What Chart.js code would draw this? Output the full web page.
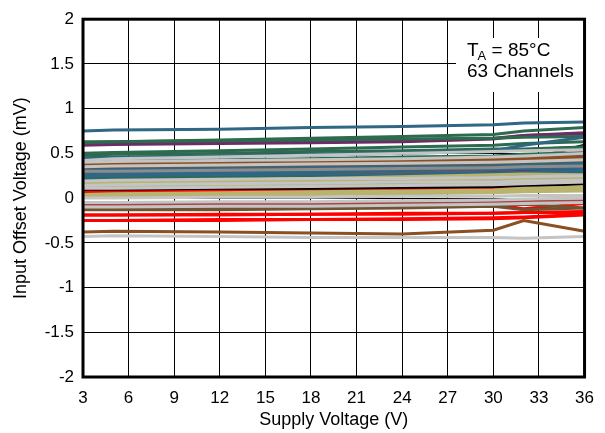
<!DOCTYPE html>
<html>
<head>
<meta charset="utf-8">
<script src="https://cdn.jsdelivr.net/npm/chart.js@4"></script>
<style>
   html, body { margin: 0; padding: 0; background: #fff; }
   #wrap { width: 605px; height: 433px; }
</style>
</head>
<body>
<div id="wrap"><canvas id="canvasVos"></canvas></div>
<script>

/* supply voltage points where each channel was measured */
const VOLTS = [3, 5, 12, 18, 24, 30, 32, 36];
const X_TICKS = [3, 6, 9, 12, 15, 18, 21, 24, 27, 30, 33, 36];
const Y_TICKS = [-2, -1.5, -1, -0.5, 0, 0.5, 1, 1.5, 2];

/* offset voltage (mV) per channel, grouped by trace colour */
const greyCh = [
   [0.42, 0.44, 0.46, 0.48, 0.50, 0.52, 0.53, 0.54],
   [0.40, 0.41, 0.42, 0.43, 0.44, 0.46, 0.47, 0.50],
   [0.35, 0.36, 0.37, 0.38, 0.39, 0.40, 0.41, 0.43],
   [0.19, 0.20, 0.21, 0.22, 0.22, 0.23, 0.24, 0.25],
   [0.14, 0.15, 0.16, 0.17, 0.18, 0.18, 0.19, 0.20],
   [0.11, 0.11, 0.12, 0.13, 0.14, 0.15, 0.16, 0.18],
   [0.00, 0.00, 0.01, 0.01, 0.02, 0.02, 0.03, 0.03],
   [-0.05, -0.05, -0.04, -0.04, -0.03, -0.02, -0.01, 0.00],
   [-0.10, -0.10, -0.09, -0.09, -0.08, -0.07, -0.06, -0.05],
   [-0.43, -0.42, -0.43, -0.44, -0.44, -0.44, -0.45, -0.43]
];
const darkGreyCh = [
   [0.30, 0.30, 0.31, 0.32, 0.33, 0.34, 0.35, 0.36]
];
const khakiCh = [
   [0.18, 0.19, 0.20, 0.22, 0.24, 0.26, 0.27, 0.26],
   [0.16, 0.17, 0.18, 0.19, 0.20, 0.21, 0.22, 0.23],
   [0.12, 0.12, 0.13, 0.14, 0.15, 0.16, 0.17, 0.19],
   [0.04, 0.05, 0.06, 0.07, 0.08, 0.09, 0.11, 0.12],
   [0.03, 0.04, 0.05, 0.06, 0.07, 0.08, 0.10, 0.13],
   [0.03, 0.03, 0.04, 0.05, 0.06, 0.07, 0.08, 0.10],
   [0.02, 0.03, 0.03, 0.04, 0.05, 0.06, 0.07, 0.08]
];
const cyanCh = [
   [0.14, 0.14, 0.15, 0.16, 0.17, 0.18, 0.19, 0.21]
];
const tealCh = [
   [0.75, 0.76, 0.77, 0.79, 0.80, 0.82, 0.84, 0.85],
   [0.44, 0.45, 0.47, 0.49, 0.51, 0.53, 0.59, 0.68],
   [0.31, 0.32, 0.33, 0.34, 0.35, 0.36, 0.37, 0.39],
   [0.27, 0.28, 0.29, 0.30, 0.31, 0.32, 0.33, 0.34],
   [0.24, 0.25, 0.26, 0.27, 0.27, 0.28, 0.29, 0.31],
   [0.20, 0.20, 0.21, 0.22, 0.24, 0.26, 0.27, 0.28]
];
const greenCh = [
   [0.62, 0.63, 0.65, 0.67, 0.69, 0.71, 0.75, 0.79],
   [0.63, 0.63, 0.64, 0.65, 0.66, 0.67, 0.68, 0.69],
   [0.50, 0.51, 0.53, 0.55, 0.57, 0.59, 0.61, 0.63],
   [0.48, 0.49, 0.50, 0.52, 0.53, 0.55, 0.55, 0.57],
   [0.45, 0.46, 0.47, 0.48, 0.50, 0.52, 0.54, 0.57],
   [0.41, 0.42, 0.43, 0.44, 0.46, 0.47, 0.49, 0.51],
   [0.22, 0.23, 0.24, 0.25, 0.26, 0.27, 0.28, 0.30]
];
const purpleCh = [
   [0.60, 0.61, 0.62, 0.64, 0.65, 0.67, 0.70, 0.73],
   [0.59, 0.60, 0.61, 0.62, 0.63, 0.66, 0.70, 0.72],
   [0.23, 0.23, 0.24, 0.25, 0.26, 0.28, 0.30, 0.32],
   [0.21, 0.21, 0.22, 0.23, 0.24, 0.25, 0.27, 0.35],
   [0.17, 0.17, 0.18, 0.19, 0.21, 0.23, 0.24, 0.27],
   [0.13, 0.14, 0.15, 0.16, 0.17, 0.18, 0.22, 0.28]
];
const brownCh = [
   [0.38, 0.38, 0.39, 0.40, 0.41, 0.42, 0.43, 0.45],
   [0.36, 0.37, 0.38, 0.40, 0.42, 0.44, 0.45, 0.47],
   [0.34, 0.35, 0.36, 0.37, 0.39, 0.41, 0.42, 0.44],
   [0.31, 0.31, 0.32, 0.34, 0.35, 0.37, 0.37, 0.40],
   [-0.38, -0.37, -0.38, -0.39, -0.40, -0.36, -0.25, -0.37]
];
const darkBrownCh = [
   [0.32, 0.33, 0.34, 0.35, 0.36, 0.38, 0.40, 0.42],
   [0.28, 0.28, 0.29, 0.30, 0.31, 0.33, 0.34, 0.36],
   [-0.12, -0.12, -0.12, -0.11, -0.10, -0.08, -0.07, -0.11],
   [-0.13, -0.13, -0.13, -0.12, -0.11, -0.09, -0.13, -0.11]
];
const redBrownCh = [
   [0.35, 0.36, 0.37, 0.39, 0.41, 0.46, 0.40, 0.48],
   [0.29, 0.29, 0.30, 0.31, 0.33, 0.35, 0.36, 0.38],
   [0.26, 0.26, 0.27, 0.28, 0.29, 0.31, 0.32, 0.33],
   [-0.07, -0.07, -0.07, -0.06, -0.06, -0.05, -0.04, -0.03]
];
const blackCh = [
   [0.38, 0.39, 0.40, 0.42, 0.43, 0.45, 0.42, 0.59],
   [0.33, 0.33, 0.34, 0.35, 0.36, 0.37, 0.39, 0.41],
   [0.25, 0.25, 0.26, 0.27, 0.28, 0.30, 0.31, 0.33],
   [0.10, 0.10, 0.11, 0.11, 0.12, 0.13, 0.14, 0.15]
];
const redCh = [
   [0.09, 0.09, 0.09, 0.10, 0.10, 0.11, 0.13, 0.17],
   [0.08, 0.08, 0.08, 0.09, 0.09, 0.10, 0.11, 0.12],
   [0.07, 0.07, 0.08, 0.08, 0.09, 0.10, 0.12, 0.16],
   [-0.10, -0.10, -0.09, -0.09, -0.08, -0.07, -0.12, -0.06],
   [-0.19, -0.19, -0.19, -0.18, -0.18, -0.17, -0.16, -0.15],
   [-0.19, -0.19, -0.18, -0.18, -0.17, -0.17, -0.16, -0.16],
   [-0.25, -0.25, -0.25, -0.24, -0.24, -0.23, -0.22, -0.19],
   [-0.25, -0.25, -0.24, -0.24, -0.23, -0.22, -0.21, -0.18]
];

/* draw order: first group at the bottom */
const GROUPS = [
   [greyCh, "#c4c4c4"],
   [darkGreyCh, "#8c8c8c"],
   [khakiCh, "#b8b46e"],
   [cyanCh, "#1aa3b5"],
   [tealCh, "#2f6784"],
   [greenCh, "#2d6b4e"],
   [purpleCh, "#6d2c68"],
   [brownCh, "#8b4f22"],
   [darkBrownCh, "#6e5430"],
   [redBrownCh, "#a84646"],
   [blackCh, "#000000"],
   [redCh, "#ff0000"]
];

const FONT = "'Liberation Sans', Arial, Helvetica, sans-serif";

function buildDatasets() {
   let sets = [];
   for (let [chans, color] of GROUPS) {
      for (let vals of chans) {
         sets.push({
            data: vals.map((v, i) => ({x: VOLTS[i], y: v})),
            borderColor: color,
            backgroundColor: color,
            borderWidth: 3,
            pointRadius: 0,
            tension: 0,
            fill: false
         });
      }
   }
   return sets;
}

/* thick frame round the plot and the condition box */
const framePlugin = {
   id: "frame",
   afterDraw(chart) {
      let ctx = chart.ctx, a = chart.chartArea;
      ctx.save();
      /* note box */
      ctx.fillStyle = "#fff";
      ctx.fillRect(456, 38, a.right - 456, 54);
      ctx.fillStyle = "#000";
      ctx.textBaseline = "alphabetic";
      ctx.font = `19px ${FONT}`;
      ctx.fillText("T", 467, 56);
      let w = ctx.measureText("T").width;
      ctx.font = `13px ${FONT}`;
      ctx.fillText("A", 467 + w - 1, 60);
      let w2 = ctx.measureText("A").width;
      ctx.font = `19px ${FONT}`;
      ctx.fillText(" = 85°C", 467 + w - 1 + w2, 56);
      ctx.fillText("63 Channels", 467, 77);
      /* frame */
      ctx.strokeStyle = "#000";
      ctx.lineWidth = 3;
      ctx.strokeRect(a.left, a.top, a.right - a.left, a.bottom - a.top);
      ctx.restore();
   }
};

function drawChart() {
   let ctx = document.getElementById("canvasVos");
   let conf = {
      type: "line",
      data: { datasets: buildDatasets() },
      options: {
         responsive: true,
         maintainAspectRatio: false,
         animation: false,
         layout: { padding: { top: 16, right: 10, left: 10, bottom: 2 } },
         scales: {
            x: {
               type: "linear",
               min: 3,
               max: 36,
               afterBuildTicks: (s) => { s.ticks = X_TICKS.map(v => ({value: v})); },
               afterFit: (s) => { s.height = 54; },
               grid: { color: "#000", lineWidth: 1, drawTicks: false },
               border: { display: false },
               ticks: { color: "#000", font: { size: 17, family: FONT }, padding: 11, maxRotation: 0 },
               title: { display: true, text: "Supply Voltage (V)", color: "#000",
                  font: { size: 18, family: FONT }, padding: { top: 0, bottom: 0 } }
            },
            y: {
               min: -2,
               max: 2,
               afterBuildTicks: (s) => { s.ticks = Y_TICKS.map(v => ({value: v})); },
               afterFit: (s) => { s.width = 73; },
               grid: { color: "#000", lineWidth: 1, drawTicks: false },
               border: { display: false },
               ticks: { color: "#000", font: { size: 17, family: FONT }, padding: 9,
                  callback: (v) => String(v) },
               title: { display: true, text: "Input Offset Voltage (mV)", color: "#000",
                  font: { size: 18, family: FONT }, padding: { top: 0, bottom: 4 } }
            }
         },
         plugins: {
            legend: { display: false },
            tooltip: { enabled: false }
         }
      },
      plugins: [framePlugin]
   };
   return new Chart(ctx, conf);
}

drawChart();
</script>
</body>
</html>
